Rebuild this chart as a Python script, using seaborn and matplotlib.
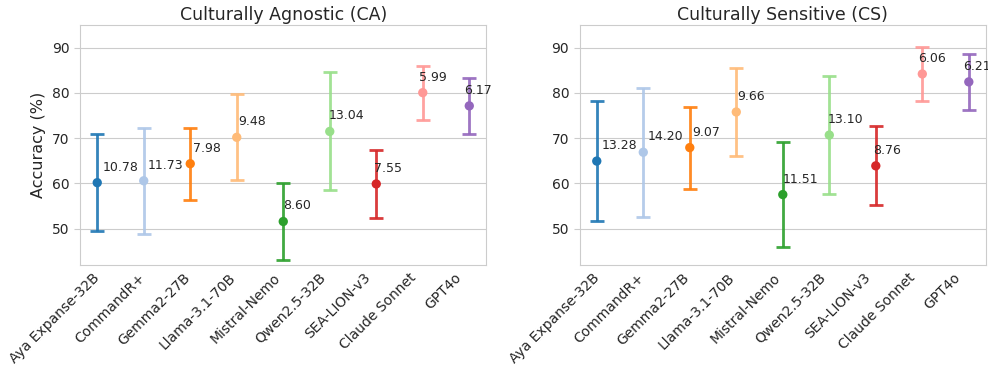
import matplotlib
matplotlib.use("Agg")
import matplotlib.pyplot as plt
import matplotlib.transforms as mtransforms
import seaborn as sns
import numpy as np

models = ["Aya Expanse-32B", "CommandR+", "Gemma2-27B", "Llama-3.1-70B",
          "Mistral-Nemo", "Qwen2.5-32B", "SEA-LION-v3", "Claude Sonnet", "GPT4o"]

ca_mean = [60.18, 60.60, 64.37, 70.20, 51.60, 71.50, 59.90, 80.07, 77.15]
ca_err = [10.78, 11.73, 7.98, 9.48, 8.60, 13.04, 7.55, 5.99, 6.17]

cs_mean = [64.95, 66.90, 67.93, 75.80, 57.55, 70.70, 63.90, 84.20, 82.45]
cs_err = [13.28, 14.20, 9.07, 9.66, 11.51, 13.10, 8.76, 6.06, 6.21]

titles = ["Culturally Agnostic (CA)", "Culturally Sensitive (CS)"]
yticks = [50, 60, 70, 80, 90]

sns.set_style("whitegrid")
palette = sns.color_palette("tab20", 20)[:len(models)]

fig, axes = plt.subplots(1, 2, figsize=(9.88, 3.69), dpi=100)
fig.subplots_adjust(left=0.081, right=0.998, bottom=0.282, top=0.932, wspace=0.229)

n = len(models)
xlo, xhi = -0.37, n - 1 + 0.37
for ax, means, errs, title in zip(axes, [ca_mean, cs_mean], [ca_err, cs_err], titles):
    x = np.arange(n)
    for i, (m, e) in enumerate(zip(means, errs)):
        ax.errorbar(i, m, yerr=e, fmt="none", ecolor=palette[i], elinewidth=2,
                    capsize=5, capthick=2, alpha=0.9, zorder=2)
    sns.scatterplot(x=x, y=means, hue=models, palette=palette, s=45, ax=ax,
                    legend=False, edgecolor="none", zorder=3)
    trans = mtransforms.blended_transform_factory(ax.transAxes, ax.transData)
    for i, (m, e) in enumerate(zip(means, errs)):
        ax.text((i + 0.5) / n, m + 2, f"{e:.2f}", transform=trans,
                ha="left", va="bottom", fontsize=9, color="#262626")
    ax.set_xlim(xlo, xhi)
    ax.set_ylim(42, 95)
    ax.set_yticks(yticks)
    # category labels sit at the centres of nine equal slots across the axes
    ax.set_xticks([xlo + (i + 0.5) / n * (xhi - xlo) for i in range(n)])
    ax.set_xticklabels(models, rotation=45, ha="right", fontsize=10)
    ax.tick_params(axis="x", pad=0.5)
    ax.tick_params(axis="y", labelsize=10, left=True, length=4, color="#cccccc")
    ax.set_title(title, fontsize=12.5, pad=4)
    ax.grid(axis="x", visible=False)
    for s in ax.spines.values():
        s.set_color("#cccccc")

axes[0].set_ylabel("Accuracy (%)", fontsize=11.5)

fig.savefig("out.png", dpi=100)
